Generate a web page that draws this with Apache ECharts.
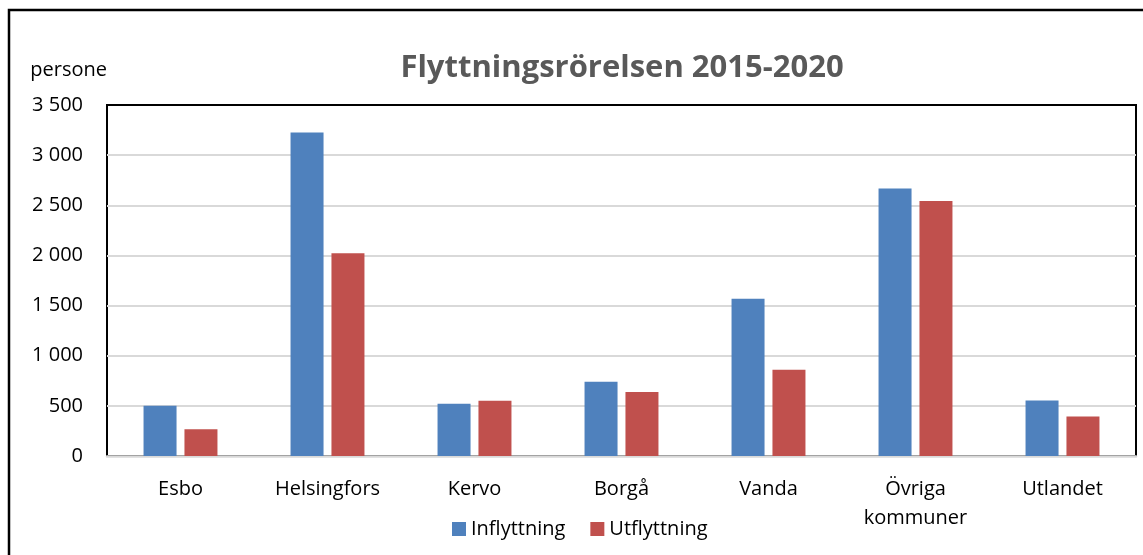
<!DOCTYPE html>
<html>
<head>
<meta charset="utf-8">
<script src="https://cdn.jsdelivr.net/npm/echarts@6/dist/echarts.min.js"></script>
<style>
  html, body { margin: 0; padding: 0; background: #fff; }
  #chart { width: 1143px; height: 555px; }
</style>
</head>
<body>
<div id="chart"></div>
<script>
const categories = ['Esbo', 'Helsingfors', 'Kervo', 'Borgå', 'Vanda', 'Övriga\nkommuner', 'Utlandet']
const inflyttning = [500, 3225, 520, 740, 1567, 2668, 553]
const utflyttning = [266, 2022, 552, 638, 860, 2542, 395]
const yTicks = { min: 0, max: 3500, interval: 500 }

const font = '"Open Sans", "Noto Sans", sans-serif'
const chart = echarts.init(document.getElementById('chart'))

const fmt = v => String(v).replace(/\B(?=(\d{3})+(?!\d))/g, ' ')

chart.setOption({
  animation: false,
  title: {
    text: 'Flyttningsrörelsen 2015-2020',
    left: 617,
    textAlign: 'center',
    top: 48,
    textStyle: { fontFamily: font, fontSize: 31, fontWeight: 'bold', color: '#595959' }
  },
  graphic: [{
    type: 'rect',
    shape: { x: 9, y: 10, width: 1200, height: 600 },
    style: { fill: 'none', stroke: '#000', lineWidth: 2.5 },
    silent: true
  }],
  legend: {
    left: 452,
    top: 519,
    padding: 0,
    itemWidth: 14,
    itemHeight: 14,
    itemGap: 25,
    icon: 'rect',
    textStyle: { fontFamily: font, fontSize: 20, color: '#000' },
    data: ['Inflyttning', 'Utflyttning']
  },
  grid: {
    left: 107, right: 7, top: 105, bottom: 99,
    show: true, borderColor: '#000', borderWidth: 2
  },
  xAxis: {
    type: 'category',
    data: categories,
    axisTick: { show: false },
    axisLine: { lineStyle: { color: '#d9d9d9', width: 2.5 } },
    axisLabel: { fontFamily: font, fontSize: 20, color: '#000', margin: 19, lineHeight: 29, interval: 0 }
  },
  yAxis: {
    type: 'value',
    min: yTicks.min, max: yTicks.max, interval: yTicks.interval,
    name: 'persone',
    nameGap: 25,
    nameTextStyle: { fontFamily: font, fontSize: 20, color: '#000', align: 'right' },
    axisLine: { show: false },
    axisTick: { show: false },
    splitLine: { showMaxLine: false, showMinLine: false, lineStyle: { color: '#d9d9d9', width: 2 } },
    axisLabel: { fontFamily: font, fontSize: 20, color: '#000', margin: 24, formatter: fmt }
  },
  series: [
    { name: 'Inflyttning', type: 'bar', data: inflyttning, barWidth: 33, barGap: '24%',
      itemStyle: { color: '#4F81BD' } },
    { name: 'Utflyttning', type: 'bar', data: utflyttning, barWidth: 33,
      itemStyle: { color: '#C0504D' } }
  ]
})
</script>
</body>
</html>
